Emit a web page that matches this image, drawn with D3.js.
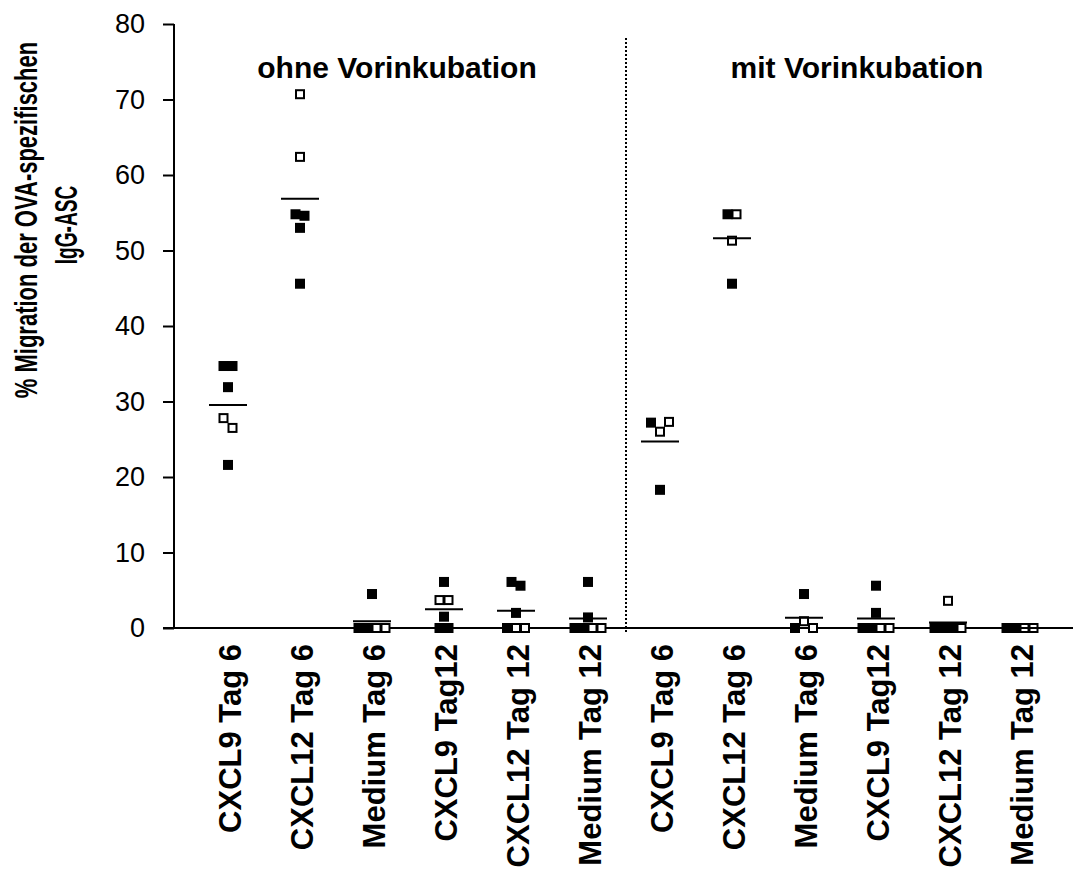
<!DOCTYPE html>
<html>
<head>
  <title>Migration IgG-ASC</title>
  <script src="https://d3js.org/d3.v7.min.js"></script>
  <style>
    body { margin: 0; background: #fff; }
    text { font-family: "Liberation Sans", Arial, sans-serif; fill: #000; }
  </style>
</head>
<body>
<script type="text/javascript">
  var w = 1073;
  var h = 876;

  // categories along the x axis
  var categories = ["CXCL9 Tag 6", "CXCL12 Tag 6", "Medium Tag 6", "CXCL9 Tag12", "CXCL12 Tag 12", "Medium Tag 12",
                    "CXCL9 Tag 6", "CXCL12 Tag 6", "Medium Tag 6", "CXCL9 Tag12", "CXCL12 Tag 12", "Medium Tag 12"];
  // filled squares per category
  var filledValues = [[34.7, 34.7, 31.9, 21.6], [54.8, 54.6, 53.0, 45.6], [4.5, 0, 0], [6.1, 1.5, 0, 0],
                      [6.1, 5.6, 2.0, 0], [6.1, 1.4, 0, 0], [27.2, 18.3], [54.8, 45.6], [4.5, 0],
                      [5.6, 2.0, 0, 0], [0, 0, 0], [0, 0]];
  // open squares per category
  var openValues = [[27.8, 26.5], [70.7, 62.4], [0, 0], [3.7, 3.7], [0, 0], [0, 0],
                    [26.0, 27.3], [54.8, 51.3], [0.9, 0], [0, 0], [3.6, 0], [0, 0]];
  var groupTitles = ["ohne Vorinkubation", "mit Vorinkubation"];
  var yTicks = [0, 10, 20, 30, 40, 50, 60, 70, 80];

  var svg = d3.select("body").append("svg")
    .attr("width", w)
    .attr("height", h);

  var x = d3.scaleBand()
    .domain(d3.range(categories.length))
    .range([192, 1056]);

  var y = d3.scaleLinear()
    .domain([0, 80])
    .range([628, 24]);

  var axisX = 174;
  var size = 10, step = 9;

  // y axis
  var yAxis = d3.axisLeft(y).tickValues(yTicks).tickSize(11).tickPadding(18);
  var gy = svg.append("g").attr("transform", "translate(" + axisX + ",0)").call(yAxis);
  gy.select(".domain").attr("stroke", "#000").attr("stroke-width", 2).attr("d", "M0," + y(80) + "V" + y(0));
  gy.selectAll(".tick line").attr("stroke", "#000").attr("stroke-width", 2);
  gy.selectAll(".tick text").attr("font-size", 27).attr("font-family", "Liberation Sans, Arial, sans-serif").attr("fill", "#000");

  // x axis line
  svg.append("line")
    .attr("x1", axisX - 11).attr("x2", w)
    .attr("y1", y(0)).attr("y2", y(0))
    .attr("stroke", "#000").attr("stroke-width", 2);

  // divider between groups
  var divX = (x(5) + x.bandwidth() + x(6)) / 2 + 2;
  svg.append("line")
    .attr("x1", divX).attr("x2", divX)
    .attr("y1", 38).attr("y2", y(0) + 4)
    .attr("stroke", "#000").attr("stroke-width", 2)
    .attr("stroke-dasharray", "2,2");

  // group titles
  svg.selectAll(".gtitle")
    .data(groupTitles)
    .enter()
    .append("text")
    .attr("class", "gtitle")
    .attr("x", function(d, i){ return i == 0 ? 397 : 857; })
    .attr("y", 78)
    .attr("text-anchor", "middle")
    .attr("font-size", 30)
    .attr("font-weight", "bold")
    .text(function(d){ return d; });

  // category labels
  svg.selectAll(".clabel")
    .data(categories)
    .enter()
    .append("text")
    .attr("class", "clabel")
    .attr("transform", function(d, i){
      return "translate(" + (x(i) + x.bandwidth() / 2 + 13) + ",644) rotate(-90)";
    })
    .attr("text-anchor", "end")
    .attr("font-size", 31)
    .attr("font-weight", "bold")
    .text(function(d){ return d; });

  // y title (condensed, as in the original)
  var yTitle = svg.append("g");
  yTitle.append("text")
    .attr("transform", "translate(37,220) rotate(-90) scale(1,1.4)")
    .attr("text-anchor", "middle")
    .attr("font-size", 22)
    .attr("font-weight", "bold")
    .text("% Migration der OVA-spezifischen");
  yTitle.append("text")
    .attr("transform", "translate(77,225) rotate(-90) scale(0.87,1.4)")
    .attr("text-anchor", "middle")
    .attr("font-size", 22)
    .attr("font-weight", "bold")
    .text("IgG-ASC");

  // lay out points: close values share a row, centered on the category
  var points = [];
  categories.forEach(function(c, i){
    var pts = [];
    filledValues[i].forEach(function(v, k){ pts.push({ v: v, open: false, order: k }); });
    openValues[i].forEach(function(v, k){ pts.push({ v: v, open: true, order: 100 + k }); });
    var sorted = pts.slice().sort(function(a, b){ return b.v - a.v; });
    var clusters = [];
    sorted.forEach(function(p, k){
      if (k == 0 || y(p.v) - y(sorted[k - 1].v) >= size) clusters.push([p]);
      else clusters[clusters.length - 1].push(p);
    });
    var cx = x(i) + x.bandwidth() / 2;
    clusters.forEach(function(cl){
      cl.sort(function(a, b){ return a.order - b.order; });
      cl.forEach(function(p, k){
        p.cx = cx + (k - (cl.length - 1) / 2) * step;
        p.cy = y(p.v);
        points.push(p);
      });
    });
  });

  svg.selectAll(".filled")
    .data(points.filter(function(p){ return !p.open; }))
    .enter()
    .append("rect")
    .attr("class", "filled")
    .attr("x", function(p){ return p.cx - size / 2; })
    .attr("y", function(p){ return p.cy - size / 2; })
    .attr("width", size).attr("height", size)
    .attr("fill", "#000");

  svg.selectAll(".open")
    .data(points.filter(function(p){ return p.open; }))
    .enter()
    .append("rect")
    .attr("class", "open")
    .attr("x", function(p){ return p.cx - size / 2 + 1; })
    .attr("y", function(p){ return p.cy - size / 2 + 1; })
    .attr("width", size - 2).attr("height", size - 2)
    .attr("fill", "#fff")
    .attr("stroke", "#000")
    .attr("stroke-width", 2);

  // mean lines
  svg.selectAll(".mean")
    .data(categories)
    .enter()
    .append("line")
    .attr("class", "mean")
    .attr("x1", function(d, i){ return x(i) + x.bandwidth() / 2 - 19; })
    .attr("x2", function(d, i){ return x(i) + x.bandwidth() / 2 + 19; })
    .attr("y1", function(d, i){ return y(d3.mean(filledValues[i].concat(openValues[i]))); })
    .attr("y2", function(d, i){ return y(d3.mean(filledValues[i].concat(openValues[i]))); })
    .attr("stroke", "#000")
    .attr("stroke-width", 2);
</script>
</body>
</html>
